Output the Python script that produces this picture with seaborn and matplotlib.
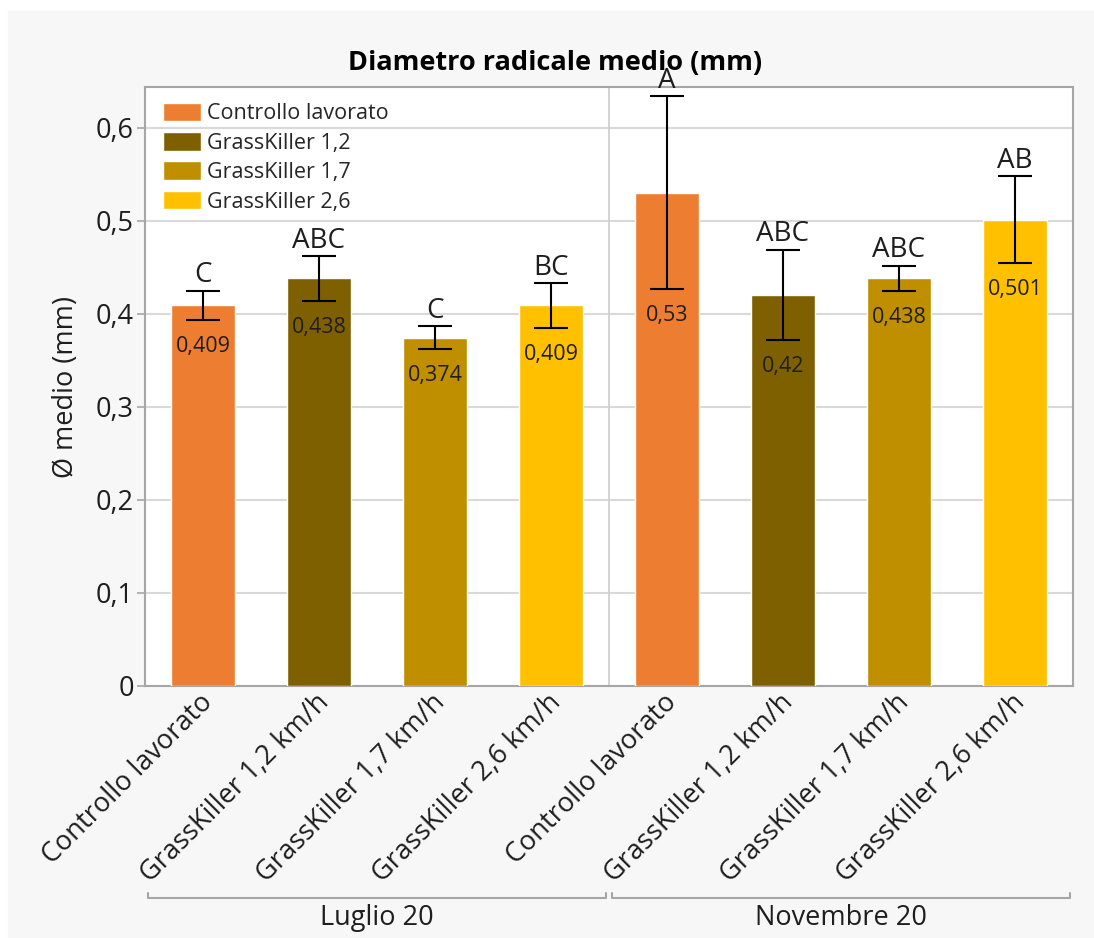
import numpy as np
import pandas as pd
import matplotlib
matplotlib.use('Agg')
import matplotlib.pyplot as plt
import matplotlib.transforms as mtransforms
import seaborn as sns
from matplotlib.patches import Rectangle
from matplotlib.ticker import FuncFormatter

# Data
periodi = ['Luglio 20', 'Novembre 20']
trattamenti = ['Controllo lavorato', 'GrassKiller 1,2 km/h',
               'GrassKiller 1,7 km/h', 'GrassKiller 2,6 km/h']
legenda = ['Controllo lavorato', 'GrassKiller 1,2', 'GrassKiller 1,7', 'GrassKiller 2,6']
colori = ['#ED7D31', '#7F6000', '#BF8F00', '#FFC000']

media_luglio = [0.409, 0.438, 0.374, 0.409]
media_novembre = [0.53, 0.42, 0.438, 0.501]
err_luglio = [0.0155, 0.024, 0.0124, 0.024]
err_novembre = [0.104, 0.0486, 0.0134, 0.0466]
lettere_luglio = ['C', 'ABC', 'C', 'BC']
lettere_novembre = ['A', 'ABC', 'ABC', 'AB']

# build table
rows = []
for per, medie, errs, lett in zip(periodi, [media_luglio, media_novembre],
                                  [err_luglio, err_novembre],
                                  [lettere_luglio, lettere_novembre]):
    for tr, leg, m, e, l in zip(trattamenti, legenda, medie, errs, lett):
        rows.append({'periodo': per, 'trattamento': tr, 'gruppo': leg,
                     'chiave': per + ' | ' + tr, 'media': m, 'err': e, 'lettera': l})
df = pd.DataFrame(rows)

sns.set_theme(style='white')
plt.rcParams['font.family'] = ['Open Sans', 'DejaVu Sans']
txt = '#1e1e1e'

W, H = 1094, 938
fig = plt.figure(figsize=(W / 100, H / 100), dpi=100, facecolor='white')
fig.patches.append(Rectangle((8 / W, 0), (W - 8) / W, (H - 11) / H,
                             transform=fig.transFigure, color='#f7f7f7', zorder=-10))

left, right, top, bottom = 145, 1073, 87, 685.7
ax = fig.add_axes([left / W, 1 - bottom / H, (right - left) / W, (bottom - top) / H])
ax.set_facecolor('white')

sns.barplot(data=df, x='chiave', y='media', hue='gruppo', palette=colori,
            hue_order=legenda, dodge=False, width=0.56, saturation=1,
            errorbar=None, ax=ax, zorder=3)

pos = np.arange(len(df))
ax.errorbar(pos, df['media'], yerr=df['err'], fmt='none', ecolor='black',
            elinewidth=1.5, capsize=12, capthick=1.5, zorder=4)

for x, m, e, l in zip(pos, df['media'], df['err'], df['lettera']):
    ax.annotate(l, (x, m + e), xytext=(0, 1), textcoords='offset points',
                ha='center', va='bottom', fontsize=20, color=txt, zorder=5)
    ax.annotate(f'{m:g}'.replace('.', ','), (x, m - e), xytext=(0, -19),
                textcoords='offset points', ha='center', va='center',
                fontsize=15.5, color=txt, zorder=5)

ax.set_xlim(-0.5, len(df) - 0.5)
ax.set_ylim(0, 0.6437)
ax.set_yticks(np.arange(0, 0.61, 0.1))
ax.yaxis.set_major_formatter(FuncFormatter(lambda v, p: f'{v:.1f}'.replace('.', ',') if v > 0 else '0'))
ax.grid(axis='y', color='#d9d9d9', linewidth=1.5, zorder=0)
ax.set_axisbelow(True)
ax.axvline(3.5, color='#d0d0d0', linewidth=1.3, zorder=1)

for s in ax.spines.values():
    s.set_color('#a6a6a6')
    s.set_linewidth(1.5)

ax.set_xlabel('')
ax.set_ylabel('')
ax.set_xticks(pos)
ax.set_xticklabels(df['trattamento'], rotation=45, ha='right', va='center',
                   rotation_mode='anchor', fontsize=19.5, color=txt)
ax.tick_params(axis='x', length=0, pad=9)
shift = mtransforms.ScaledTranslation(6 / 100, 0, fig.dpi_scale_trans)
for lab in ax.get_xticklabels():
    lab.set_transform(lab.get_transform() + shift)
ax.tick_params(axis='y', length=6, width=1.2, color='#a6a6a6', labelsize=19.5,
               labelcolor=txt, pad=2, left=True)

# group brackets under the tick labels
tr = ax.get_xaxis_transform()
for g, per in enumerate(periodi):
    x0, x1 = g * 4 - 0.47, g * 4 + 3.47
    ax.plot([x0, x0, x1, x1], [-0.346, -0.3546, -0.3546, -0.346], transform=tr,
            color='#a6a6a6', linewidth=1.5, clip_on=False)
    ax.text((x0 + x1) / 2, -0.388, per, transform=tr, ha='center', va='center',
            fontsize=19.5, color=txt)

handles, labels = ax.get_legend_handles_labels()
ax.legend(handles, labels, loc='upper left', bbox_to_anchor=(0.019, 0.974),
          frameon=False, fontsize=15.5, handlelength=1.8, handleheight=0.95,
          handletextpad=0.25, labelspacing=0.36, borderpad=0, borderaxespad=0)

fig.text(555 / W, 1 - 63 / H, 'Diametro radicale medio (mm)', ha='center',
         va='center', fontsize=19.5, fontweight='bold', color='black')
fig.text(66 / W, 1 - 387 / H, 'Ø medio (mm)', ha='center', va='center',
         rotation=90, fontsize=19.5, color=txt)

fig.savefig('out.png', dpi=100, facecolor='white')
